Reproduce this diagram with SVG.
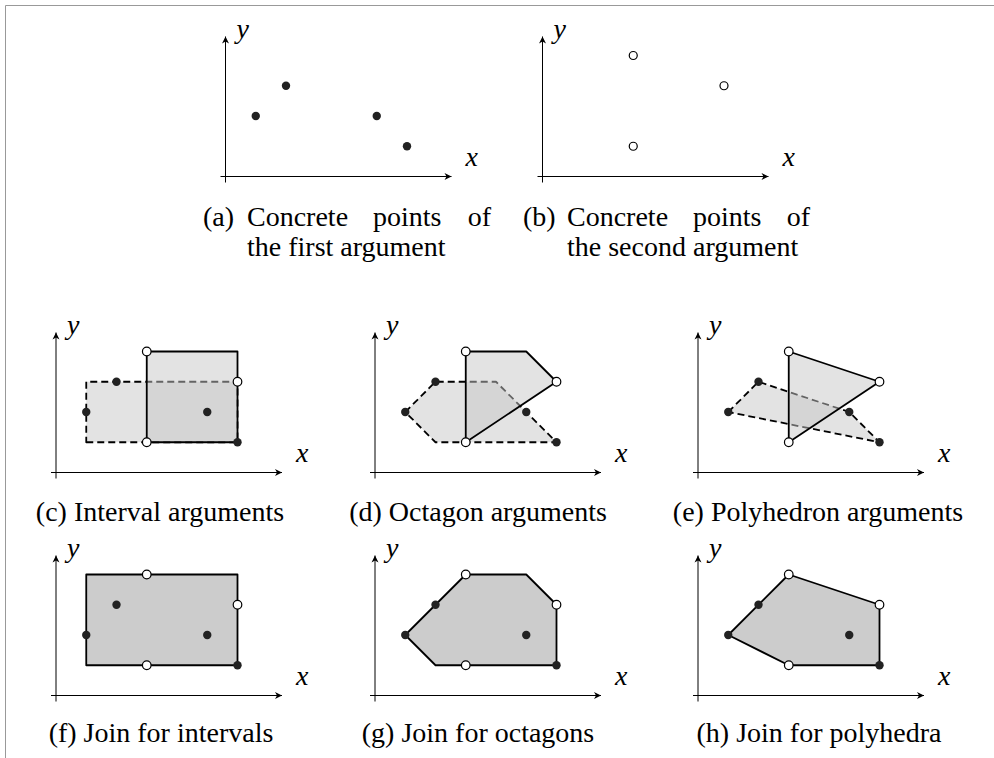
<svg xmlns="http://www.w3.org/2000/svg" width="994" height="758" viewBox="0 0 994 758">
<style>
.ax{stroke:#000;stroke-width:1;fill:none}
.lab{font-family:"Liberation Serif","DejaVu Serif",serif;font-style:italic;font-size:28px;fill:#000}
.cap{font-family:"Liberation Serif","DejaVu Serif",serif;font-size:28px;fill:#000}
.fd{fill:#222}
.op{fill:#fff;stroke:#000;stroke-width:1.2}
.r1{fill:#c8c8c8;fill-opacity:0.5;stroke:#000;stroke-width:1.8;stroke-dasharray:7 4;stroke-linejoin:round}
.r2{fill:#c8c8c8;fill-opacity:0.5;stroke:none}
.s2{fill:none;stroke:#000;stroke-width:1.8;stroke-linejoin:round}
.j{fill:#cccccc;stroke:#000;stroke-width:1.8;stroke-linejoin:round}
</style>
<defs>
<marker id="ar" viewBox="-8 -4 9 8" refX="0" refY="0" markerWidth="9" markerHeight="8" markerUnits="userSpaceOnUse" orient="auto">
<path d="M0,0 L-7,-3.5 L-5,0 L-7,3.5Z" fill="#000"/>
</marker>
<g id="axes">
<line class="ax" x1="0" y1="6" x2="0" y2="-140" marker-end="url(#ar)"/>
<line class="ax" x1="-5" y1="0" x2="226" y2="0" marker-end="url(#ar)"/>
<text class="lab" x="11" y="-139">y</text>
<text class="lab" x="240" y="-11">x</text>
</g>
</defs>
<path d="M5.5,758 V5.5 H994" fill="none" stroke="#999" stroke-width="1"/>

<g id="panel-a" transform="translate(225.5,176.5)">
<use href="#axes"/>
<circle class="fd" cx="30.25" cy="-60.5" r="4.2"/>
<circle class="fd" cx="60.5" cy="-90.75" r="4.2"/>
<circle class="fd" cx="151.25" cy="-60.5" r="4.2"/>
<circle class="fd" cx="181.5" cy="-30.25" r="4.2"/>
</g>
<g id="panel-b" transform="translate(542.5,176.5)">
<use href="#axes"/>
<circle class="op" cx="90.75" cy="-121" r="4"/>
<circle class="op" cx="181.5" cy="-90.75" r="4"/>
<circle class="op" cx="90.75" cy="-30.25" r="4"/>
</g>
<g id="caption-a">
<text class="cap" x="203" y="226">(a)</text>
<text class="cap" x="247" y="226">Concrete</text>
<text class="cap" x="373" y="226">points</text>
<text class="cap" x="491" y="226" text-anchor="end">of</text>
<text class="cap" x="247" y="256">the first argument</text>
</g>
<g id="caption-b">
<text class="cap" x="523" y="226">(b)</text>
<text class="cap" x="567" y="226">Concrete</text>
<text class="cap" x="693" y="226">points</text>
<text class="cap" x="810" y="226" text-anchor="end">of</text>
<text class="cap" x="567" y="256">the second argument</text>
</g>

<g id="panel-c" transform="translate(56,472.5)">
<use href="#axes"/>
<path class="r1" d="M30.25,-30.25 H181.5 V-90.75 H30.25 Z"/>
<path class="r2" d="M90.75,-30.25 H181.5 V-121 H90.75 Z"/>
<path class="s2" d="M90.75,-30.25 H181.5 V-121 H90.75 Z"/>
<circle class="fd" cx="30.25" cy="-60.5" r="4.2"/>
<circle class="fd" cx="60.5" cy="-90.75" r="4.2"/>
<circle class="fd" cx="151.25" cy="-60.5" r="4.2"/>
<circle class="fd" cx="181.5" cy="-30.25" r="4.2"/>
<circle class="op" cx="90.75" cy="-121" r="4.3"/>
<circle class="op" cx="181.5" cy="-90.75" r="4.3"/>
<circle class="op" cx="90.75" cy="-30.25" r="4.3"/>
</g>
<g id="panel-d" transform="translate(375,472.5)">
<use href="#axes"/>
<path class="r1" d="M30.25,-60.5 L60.5,-90.75 H121 L181.5,-30.25 H60.5 Z"/>
<path class="r2" d="M90.75,-30.25 V-121 H151.25 L181.5,-90.75 Z"/>
<path class="s2" d="M90.75,-30.25 V-121 H151.25 L181.5,-90.75 Z"/>
<circle class="fd" cx="30.25" cy="-60.5" r="4.2"/>
<circle class="fd" cx="60.5" cy="-90.75" r="4.2"/>
<circle class="fd" cx="151.25" cy="-60.5" r="4.2"/>
<circle class="fd" cx="181.5" cy="-30.25" r="4.2"/>
<circle class="op" cx="90.75" cy="-121" r="4.3"/>
<circle class="op" cx="181.5" cy="-90.75" r="4.3"/>
<circle class="op" cx="90.75" cy="-30.25" r="4.3"/>
</g>
<g id="panel-e" transform="translate(698,472.5)">
<use href="#axes"/>
<path class="r1" d="M30.25,-60.5 L60.5,-90.75 L151.25,-60.5 L181.5,-30.25 Z"/>
<path class="r2" d="M90.75,-30.25 V-121 L181.5,-90.75 Z"/>
<path class="s2" d="M90.75,-30.25 V-121 L181.5,-90.75 Z"/>
<circle class="fd" cx="30.25" cy="-60.5" r="4.2"/>
<circle class="fd" cx="60.5" cy="-90.75" r="4.2"/>
<circle class="fd" cx="151.25" cy="-60.5" r="4.2"/>
<circle class="fd" cx="181.5" cy="-30.25" r="4.2"/>
<circle class="op" cx="90.75" cy="-121" r="4.3"/>
<circle class="op" cx="181.5" cy="-90.75" r="4.3"/>
<circle class="op" cx="90.75" cy="-30.25" r="4.3"/>
</g>
<g id="captions-row2">
<text class="cap" x="160" y="521" text-anchor="middle">(c) Interval arguments</text>
<text class="cap" x="478" y="521" text-anchor="middle">(d) Octagon arguments</text>
<text class="cap" x="818" y="521" text-anchor="middle">(e) Polyhedron arguments</text>
</g>

<g id="panel-f" transform="translate(56,695.5)">
<use href="#axes"/>
<path class="j" d="M30.25,-30.25 H181.5 V-121 H30.25 Z"/>
<circle class="fd" cx="30.25" cy="-60.5" r="4.2"/>
<circle class="fd" cx="60.5" cy="-90.75" r="4.2"/>
<circle class="fd" cx="151.25" cy="-60.5" r="4.2"/>
<circle class="fd" cx="181.5" cy="-30.25" r="4.2"/>
<circle class="op" cx="90.75" cy="-121" r="4.3"/>
<circle class="op" cx="181.5" cy="-90.75" r="4.3"/>
<circle class="op" cx="90.75" cy="-30.25" r="4.3"/>
</g>
<g id="panel-g" transform="translate(375,695.5)">
<use href="#axes"/>
<path class="j" d="M30.25,-60.5 L90.75,-121 H151.25 L181.5,-90.75 V-30.25 H60.5 Z"/>
<circle class="fd" cx="30.25" cy="-60.5" r="4.2"/>
<circle class="fd" cx="60.5" cy="-90.75" r="4.2"/>
<circle class="fd" cx="151.25" cy="-60.5" r="4.2"/>
<circle class="fd" cx="181.5" cy="-30.25" r="4.2"/>
<circle class="op" cx="90.75" cy="-121" r="4.3"/>
<circle class="op" cx="181.5" cy="-90.75" r="4.3"/>
<circle class="op" cx="90.75" cy="-30.25" r="4.3"/>
</g>
<g id="panel-h" transform="translate(698,695.5)">
<use href="#axes"/>
<path class="j" d="M30.25,-60.5 L90.75,-121 L181.5,-90.75 V-30.25 H90.75 Z"/>
<circle class="fd" cx="30.25" cy="-60.5" r="4.2"/>
<circle class="fd" cx="60.5" cy="-90.75" r="4.2"/>
<circle class="fd" cx="151.25" cy="-60.5" r="4.2"/>
<circle class="fd" cx="181.5" cy="-30.25" r="4.2"/>
<circle class="op" cx="90.75" cy="-121" r="4.3"/>
<circle class="op" cx="181.5" cy="-90.75" r="4.3"/>
<circle class="op" cx="90.75" cy="-30.25" r="4.3"/>
</g>
<g id="captions-row3">
<text class="cap" x="161" y="742" text-anchor="middle">(f) Join for intervals</text>
<text class="cap" x="478" y="742" text-anchor="middle">(g) Join for octagons</text>
<text class="cap" x="819" y="742" text-anchor="middle">(h) Join for polyhedra</text>
</g>
</svg>
